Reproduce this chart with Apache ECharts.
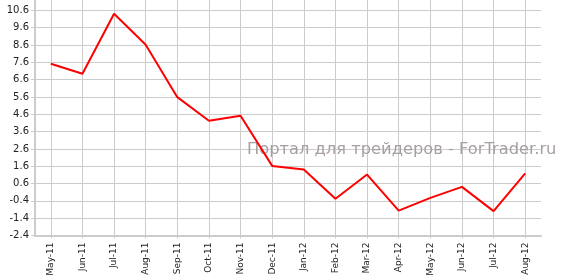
<!DOCTYPE html>
<html>
<head>
<meta charset="utf-8">
<script src="https://cdn.jsdelivr.net/npm/echarts@6/dist/echarts.min.js"></script>
<style>
html,body{margin:0;padding:0;background:#fff;}
#chart{width:562px;height:280px;}
</style>
</head>
<body>
<div id="chart"></div>
<script>
const categories = ['May-11','Jun-11','Jul-11','Aug-11','Sep-11','Oct-11','Nov-11','Dec-11','Jan-12','Feb-12','Mar-12','Apr-12','May-12','Jun-12','Jul-12','Aug-12'];
const values = [7.52, 6.94, 10.41, 8.62, 5.59, 4.23, 4.52, 1.62, 1.41, -0.28, 1.12, -0.96, -0.23, 0.41, -0.99, 1.19];
const yMin = -2.4;
const yMax = 11.2;
const yStep = 1;
const watermark = 'Портал для трейдеров - ForTrader.ru';

const chart = echarts.init(document.getElementById('chart'), null, {renderer: 'canvas'});
chart.setOption({
  animation: false,
  backgroundColor: '#ffffff',
  grid: {left: 35, right: 21, top: 0, bottom: 44.5},
  xAxis: {
    type: 'category',
    data: categories,
    boundaryGap: true,
    axisLine: {show: true, onZero: false, lineStyle: {color: '#cccccc', width: 2}},
    axisTick: {show: true, alignWithLabel: true, length: 3, lineStyle: {color: '#cccccc'}},
    axisLabel: {rotate: 90, margin: 7, color: '#222', fontFamily: 'DejaVu Sans', fontSize: 9, interval: 0},
    splitLine: {show: true, alignWithLabel: true, lineStyle: {color: '#cccccc', width: 1}}
  },
  yAxis: {
    type: 'value',
    min: yMin,
    max: yMax,
    interval: yStep,
    axisLine: {show: true, lineStyle: {color: '#cccccc', width: 2}},
    axisTick: {show: true, length: 4, lineStyle: {color: '#cccccc'}},
    axisLabel: {
      margin: 6, color: '#222', fontFamily: 'DejaVu Sans', fontSize: 10,
      showMaxLabel: false,
      formatter: v => v.toFixed(1)
    },
    splitLine: {show: true, showMaxLine: false, lineStyle: {color: '#cccccc', width: 1}}
  },
  graphic: [{
    type: 'text',
    left: 247,
    top: 142,
    z: 1,
    style: {text: watermark, fill: '#a8a0a0', font: '16.3px "DejaVu Sans"'}
  }],
  series: [{
    type: 'line',
    data: values,
    showSymbol: false,
    symbol: 'none',
    z: 5,
    lineStyle: {color: '#ff0000', width: 2},
    itemStyle: {color: '#ff0000'}
  }]
});
</script>
</body>
</html>
